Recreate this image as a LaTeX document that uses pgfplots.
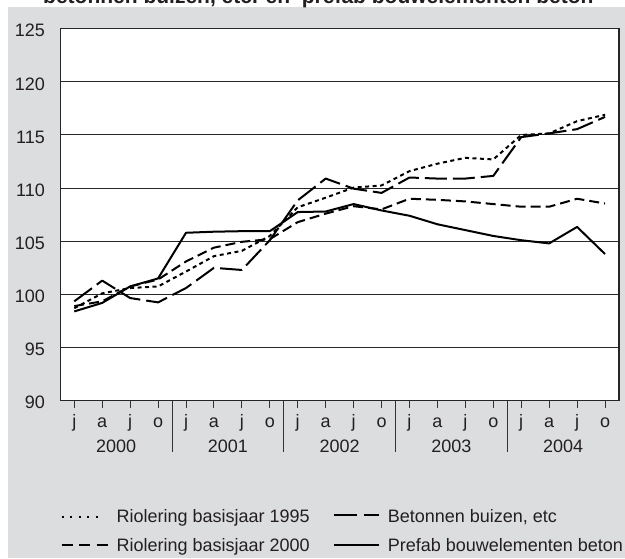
\documentclass[border=0pt]{standalone}
\usepackage{fontspec}
\setmainfont{Liberation Sans}
\usepackage{pgfplots}
\pgfplotsset{compat=1.18}
\definecolor{bggray}{RGB}{220,221,223}
\definecolor{txt}{RGB}{35,31,32}
\newcommand{\lblfont}{\fontsize{18}{21}\selectfont}
\tikzset{lbl/.style={anchor=base, inner sep=0pt, font=\lblfont, text=txt}}
\begin{document}
\begin{tikzpicture}
\path[use as bounding box] (0pt,0pt) rectangle (625pt,558pt);
\clip (0pt,0pt) rectangle (625pt,558pt);
\fill[white] (0pt,0pt) rectangle (625pt,558pt);
\fill[bggray] (7.5pt,0pt) rectangle (625pt,550.7pt);
\node[anchor=base west, inner sep=0pt, text=txt, font=\bfseries\fontsize{21}{25}\selectfont] at (43pt,554pt) {betonnen buizen, etc. en\ \ prefab bouwelementen beton};
\begin{axis}[
  at={(60.3pt,157.3pt)}, anchor=south west,
  scale only axis, width=558.7pt, height=372pt,
  xmin=-0.5, xmax=19.5, ymin=90, ymax=125,
  clip=false,
  axis background/.style={fill=white},
  axis line style={black!85, line width=1.1pt},
  ytick={90,95,...,125},
  ymajorgrids,
  major grid style={black!85, line width=1pt},
  ytick style={draw=none},
  xtick={0,...,19},
  xticklabels={},
  xtick pos=bottom,
  xtick style={black!80, line width=1pt},
  tick align=outside,
  major tick length=7.7pt,
  extra x ticks={3.5,7.5,11.5,15.5},
  extra x tick labels={},
  extra x tick style={major tick length=51pt, tick align=outside, grid=none, xtick pos=bottom},
  yticklabel style={anchor=east, xshift=-7.6pt, yshift=-2pt, inner sep=0pt},
  /pgf/number format/assume math mode=true,
  tick label style={font=\lblfont, text=txt},
  legend cell align=left,
  legend columns=2,
  transpose legend,
  legend style={at={(0.0007,-0.293)}, anchor=north west, draw=none, fill=none,
    inner sep=0pt, outer sep=0pt, row sep=12pt,
    nodes={inner sep=0pt, text height=13pt, text depth=4pt, font=\lblfont, text=txt},
    /tikz/every odd column/.style={column sep=8pt},
    /tikz/every even column/.style={column sep=23.3pt}},
]
\addplot[black, line width=2pt, line join=round, dash pattern=on 4pt off 3.5pt,
  legend image code/.code={\draw[black, line width=2pt, dash pattern=on 2pt off 6.5pt] (0pt,1pt) -- (36pt,1pt);}]
  table {
x y
0 98.7
1 100.1
2 100.6
3 100.75
4 102.15
5 103.6
6 104.1
7 105.5
8 108.2
9 109.1
10 110.05
11 110.25
12 111.6
13 112.3
14 112.85
15 112.7
16 115.0
17 115.15
18 116.3
19 116.9
};
\addlegendentry{Riolering basisjaar 1995}
\addplot[black, line width=2pt, line join=round, dash pattern=on 10pt off 5pt,
  legend image code/.code={\draw[black, line width=2pt, dash pattern=on 11pt off 6.5pt] (0pt,1.7pt) -- (46pt,1.7pt);}]
  table {
x y
0 98.9
1 99.35
2 100.75
3 101.4
4 103.1
5 104.4
6 104.95
7 105.2
8 106.8
9 107.6
10 108.3
11 108.0
12 109.0
13 108.9
14 108.75
15 108.5
16 108.25
17 108.25
18 109.0
19 108.55
};
\addlegendentry{Riolering basisjaar 2000}
\addplot[black, line width=2pt, line join=round, dash pattern=on 22pt off 6pt,
  legend image code/.code={\draw[black, line width=2pt, dash pattern=on 22.7pt off 6.7pt on 15.3pt off 10pt] (0pt,3pt) -- (44.7pt,3pt);}]
  table {
x y
0 99.35
1 101.3
2 99.66
3 99.25
4 100.6
5 102.5
6 102.3
7 105.1
8 108.85
9 110.9
10 109.95
11 109.55
12 111.0
13 110.9
14 110.9
15 111.15
16 114.8
17 115.15
18 115.55
19 116.7
};
\addlegendentry{Betonnen buizen, etc}
\addplot[black, line width=2pt, line join=round,
  legend image code/.code={\draw[black, line width=2pt] (0pt,2.4pt) -- (44.7pt,2.4pt);}]
  table {
x y
0 98.4
1 99.2
2 100.75
3 101.5
4 105.8
5 105.9
6 105.95
7 105.95
8 107.75
9 107.8
10 108.5
11 107.9
12 107.4
13 106.6
14 106.05
15 105.5
16 105.1
17 104.8
18 106.35
19 103.8
};
\addlegendentry{Prefab bouwelementen beton}
\node[lbl] at (axis cs:0,87.497) {j};
\node[lbl] at (axis cs:1,87.497) {a};
\node[lbl] at (axis cs:2,87.497) {j};
\node[lbl] at (axis cs:3,87.497) {o};
\node[lbl] at (axis cs:4,87.497) {j};
\node[lbl] at (axis cs:5,87.497) {a};
\node[lbl] at (axis cs:6,87.497) {j};
\node[lbl] at (axis cs:7,87.497) {o};
\node[lbl] at (axis cs:8,87.497) {j};
\node[lbl] at (axis cs:9,87.497) {a};
\node[lbl] at (axis cs:10,87.497) {j};
\node[lbl] at (axis cs:11,87.497) {o};
\node[lbl] at (axis cs:12,87.497) {j};
\node[lbl] at (axis cs:13,87.497) {a};
\node[lbl] at (axis cs:14,87.497) {j};
\node[lbl] at (axis cs:15,87.497) {o};
\node[lbl] at (axis cs:16,87.497) {j};
\node[lbl] at (axis cs:17,87.497) {a};
\node[lbl] at (axis cs:18,87.497) {j};
\node[lbl] at (axis cs:19,87.497) {o};
\node[lbl] at (axis cs:1.5,85.108) {2000};
\node[lbl] at (axis cs:5.5,85.108) {2001};
\node[lbl] at (axis cs:9.5,85.108) {2002};
\node[lbl] at (axis cs:13.5,85.108) {2003};
\node[lbl] at (axis cs:17.5,85.108) {2004};
\end{axis}
\end{tikzpicture}
\end{document}
